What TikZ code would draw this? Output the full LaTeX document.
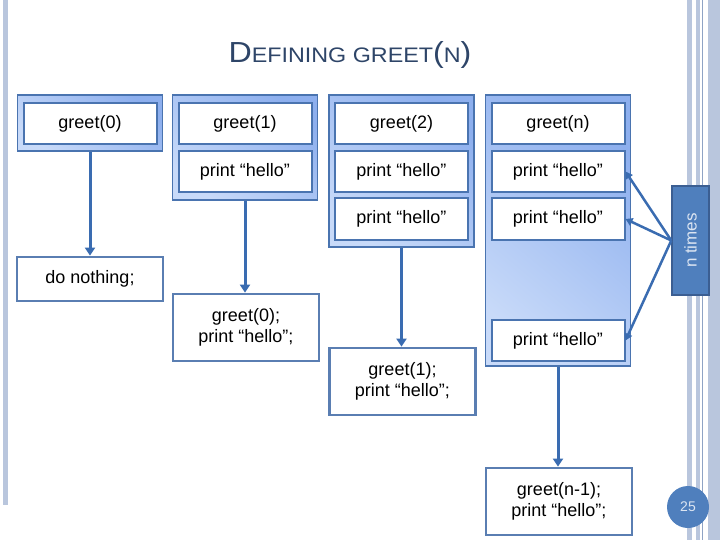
\documentclass[tikz,border=0pt]{standalone}
\usepackage{fontspec}
\setmainfont{Liberation Sans}
\usetikzlibrary{arrows.meta,calc}

\definecolor{titleblue}{HTML}{2E4568}
\definecolor{frameblue}{HTML}{4A74B0}
\definecolor{bandlight}{HTML}{C8DAF9}
\definecolor{banddark}{HTML}{8DAFEE}
\definecolor{boxline}{HTML}{5A7EB2}
\definecolor{linkblue}{HTML}{3A6CB1}
\definecolor{tagblue}{HTML}{4F7FBD}
\definecolor{tagline}{HTML}{3B5E92}
\definecolor{tagtext}{HTML}{DCE5F2}
\definecolor{stripe}{HTML}{B9C6DD}
\definecolor{stripedark}{HTML}{8FA3C4}

\tikzset{
  txt/.style={font=\fontsize{18}{21}\selectfont, align=center},
  colframe/.style={draw=frameblue, line width=1.5pt, top color=banddark, bottom color=bandlight, shading angle=-40, minimum width=145pt, inner sep=0pt},
  cell/.style={txt, draw=frameblue, line width=2pt, fill=white, minimum width=133pt, minimum height=41pt, inner sep=0pt},
  result/.style={txt, draw=boxline, line width=2.7pt, fill=white, minimum width=146pt, minimum height=67pt, inner sep=0pt},
  arr/.style={draw=linkblue, line width=3pt, -{Triangle[length=8pt,width=10pt]}},
  tagarr/.style={draw=linkblue, line width=2.5pt, -{Triangle[length=7pt,width=8pt]}},
}

\begin{document}
\begin{tikzpicture}[x=1pt, y=-1pt]
    \useasboundingbox (0,0) rectangle (720,540);

    % Slide stripes
    \fill[stripe] (3,0) rectangle (8,505);
    \fill[stripe] (687,0) rectangle (692,540);
    \fill[stripe] (696,0) rectangle (700,540);
    \draw[stripedark, line width=0.8pt] (702,0) -- (702,540);
    \fill[stripe] (708,0) rectangle (720,540);

    % Title
    \node[text=titleblue, xscale=1.11, anchor=base] (title) at (350,63)
      {\fontsize{29}{29}\selectfont D\fontsize{21}{21}\selectfont EFINING GREET\fontsize{29}{29}\selectfont(\fontsize{21}{21}\selectfont N\fontsize{29}{29}\selectfont)};

    % Call frames
    \node[colframe, minimum height=56pt] (col0) at (90,123) {};
    \node[colframe, minimum height=105pt] (col1) at (245,147.5) {};
    \node[colframe, minimum height=152pt] (col2) at (401.5,171) {};
    \node[colframe, minimum height=271pt] (coln) at (558,230.5) {};

    % greet(0)
    \node[cell] (g0) at (90,123.5) {greet(0)};

    % greet(1)
    \node[cell] (g1) at (245,123.5) {greet(1)};
    \node[cell] (g1p) at (245,171.5) {print “hello”};

    % greet(2)
    \node[cell] (g2) at (401.5,123.5) {greet(2)};
    \node[cell] (g2p1) at (401.5,171.5) {print “hello”};
    \node[cell] (g2p2) at (401.5,219) {print “hello”};

    % greet(n)
    \node[cell] (gn) at (558,123.5) {greet(n)};
    \node[cell] (gnp1) at (558,171.5) {print “hello”};
    \node[cell] (gnp2) at (558,219) {print “hello”};
    \node[cell] (gnp3) at (558,340.5) {print “hello”};

    % What each call does
    \node[result, minimum height=44pt] (res0) at (90,279) {do nothing;};
    \node[result] (res1) at (246,327.5) {greet(0);\\print “hello”;};
    \node[result] (res2) at (402.5,381.5) {greet(1);\\print “hello”;};
    \node[result] (resn) at (559,501.5) {greet(n-1);\\print “hello”;};

    \draw[arr] (col0.south) -- (res0.north);
    \draw[arr] (col1.south) -- (col1.south |- res1.north);
    \draw[arr] (col2.south) -- (col2.south |- res2.north);
    \draw[arr] (coln.south) -- (coln.south |- resn.north);

    % n times
    \node[draw=tagline, line width=1.5pt, fill=tagblue, text=tagtext, rotate=90,
          minimum width=109pt, minimum height=37pt, inner sep=0pt,
          font=\fontsize{17}{17}\selectfont] (tag) at (690.5,240.5) {n times};
    \draw[tagarr] (tag.north) -- (gnp1.east);
    \draw[tagarr] (tag.north) -- (gnp2.east);
    \draw[tagarr] (tag.north) -- (gnp3.east);

    % Slide number
    \node[circle, fill=tagblue, text=tagtext, minimum size=42pt, inner sep=0pt,
          font=\fontsize{14}{14}\selectfont] (pagenum) at (688,507) {25};
\end{tikzpicture}
\end{document}
